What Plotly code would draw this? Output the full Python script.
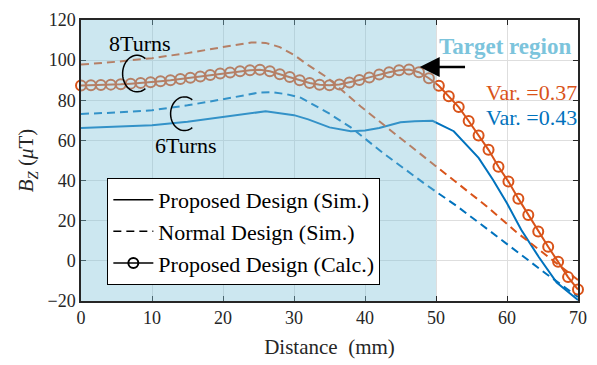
import numpy as np
import plotly.graph_objects as go

BLUE = "#0072BD"
ORANGE = "#D95319"
FONT = "Liberation Serif, Times New Roman, serif"

# Proposed design, 6 turns (simulation)
prop6_x = [0, 5, 10, 15, 20, 25, 26, 30, 32, 35, 38, 40, 42, 45, 47, 49.5,
           52.5, 56, 58, 60, 62, 64.5, 67, 70]
prop6_y = [66.2, 66.8, 67.6, 69.3, 71.5, 74.0, 74.5, 72.6, 70.5, 66.5, 64.6, 65.0,
           66.2, 69.0, 69.6, 69.8, 64.6, 51.3, 40.5, 28.7, 15.5, 1.8, -10.8, -19.5]

# Normal design, 6 turns (simulation)
norm6_x = [0, 5, 10, 15, 20, 25, 27, 29, 31, 35, 38, 42.6, 48.4, 53, 57.2, 61.3, 65.5, 70]
norm6_y = [73.2, 73.9, 75.0, 77.5, 80.5, 83.8, 84.0, 83.0, 81.2, 73.3, 66.5, 53.6,
           38.4, 27.1, 15.9, 4.8, -6.4, -18.0]

# Normal design, 8 turns (simulation)
norm8_x = [0, 5, 10, 15, 20, 24, 26, 28, 30, 32, 34.7, 39.4, 44.5, 48.8, 53, 57.2,
           61.3, 65.5, 70]
norm8_y = [97.8, 99.2, 101.0, 103.5, 106.5, 108.8, 108.6, 106.5, 102.6, 97.5, 91.3,
           76.9, 62.5, 50.5, 38.4, 27.0, 14.4, 3.0, -9.5]

# Proposed design, 8 turns (calculation)
calc8_x = [0, 1.4, 2.8, 4.2, 5.6, 7, 8.4, 9.8, 11.2, 12.6, 14, 15.4, 16.8, 18.2, 19.6,
           21, 22.4, 23.8, 25.2, 26.6, 28, 29.4, 30.8, 32.2, 33.6, 35, 36.4, 37.8,
           39.2, 40.6, 42, 43.4, 44.8, 46.2, 47.6, 49, 50.4, 51.8, 53.2, 54.6, 56,
           57.4, 58.8, 60.2, 61.6, 63, 64.4, 65.8, 67.2, 68.6, 70]
calc8_y = [87.4, 87.5, 87.6, 87.8, 88.0, 88.3, 88.6, 89.0, 89.5, 90.0, 90.6, 91.2,
           91.9, 92.6, 93.3, 93.9, 94.5, 95.0, 95.2, 94.5, 93.0, 91.6, 90.0, 88.6,
           87.7, 87.5, 87.9, 88.9, 90.1, 91.4, 92.8, 94.0, 95.0, 95.3, 94.0, 91.0,
           87.2, 82.0, 76.6, 69.7, 62.5, 55.3, 46.9, 39.5, 31.0, 22.8, 14.6, 7.0,
           -0.5, -8.1, -14.3]

x_ticks = [0, 10, 20, 30, 40, 50, 60, 70]
y_ticks = [-20, 0, 20, 40, 60, 80, 100, 120]
target_region = [0, 50]

legend_names = ["Proposed Design (Sim.)", "Normal Design (Sim.)", "Proposed Design (Calc.)"]

fig = go.Figure()

dash = "8px,5px"
fig.add_trace(go.Scatter(x=prop6_x, y=prop6_y, mode="lines",
                         line=dict(color=BLUE, width=2), showlegend=False))
fig.add_trace(go.Scatter(x=norm6_x, y=norm6_y, mode="lines",
                         line=dict(color=BLUE, width=2, dash=dash), showlegend=False))
fig.add_trace(go.Scatter(x=norm8_x, y=norm8_y, mode="lines",
                         line=dict(color=ORANGE, width=2, dash=dash), showlegend=False))
fig.add_trace(go.Scatter(x=calc8_x, y=calc8_y, mode="lines+markers",
                         line=dict(color=ORANGE, width=2),
                         marker=dict(symbol="circle-open", size=10, color=ORANGE,
                                     line=dict(width=2, color=ORANGE)),
                         cliponaxis=False, showlegend=False))

# black legend keys
fig.add_trace(go.Scatter(x=[None], y=[None], mode="lines", name=legend_names[0],
                         line=dict(color="black", width=1.5)))
fig.add_trace(go.Scatter(x=[None], y=[None], mode="lines", name=legend_names[1],
                         line=dict(color="black", width=1.5, dash=dash)))
fig.add_trace(go.Scatter(x=[None], y=[None], mode="lines+markers", name=legend_names[2],
                         line=dict(color="black", width=1.5),
                         marker=dict(symbol="circle-open", size=10, color="black",
                                     line=dict(width=2, color="black"))))

shapes = []
# translucent wash over the target region
shapes.append(dict(type="rect", xref="x", yref="y", layer="above",
                   x0=target_region[0], x1=target_region[1], y0=-20, y1=120,
                   fillcolor="rgb(127,195,217)", opacity=0.4, line=dict(width=0)))


def arc_path(cx, cy, rx, ry, t0=55, t1=305, n=40):
    t = np.radians(np.linspace(t0, t1, n))
    xs = cx + rx * np.cos(t)
    ys = cy + ry * np.sin(t)
    return "M " + " L ".join(f"{a:.3f},{b:.3f}" for a, b in zip(xs, ys))


for cx, cy, rx, ry in [(7.90, 93.3, 2.04, 9.1), (14.56, 73.3, 1.94, 8.4)]:
    shapes.append(dict(type="path", xref="x", yref="y", layer="above",
                       path=arc_path(cx, cy, rx, ry),
                       line=dict(color="black", width=1.5)))

annotations = [
    dict(x=8.3, y=108.2, text="8Turns", showarrow=False,
         font=dict(family=FONT, size=22, color="black")),
    dict(x=14.8, y=57.4, text="6Turns", showarrow=False,
         font=dict(family=FONT, size=22, color="black")),
    dict(x=59.75, y=106.7, text="<b>Target region</b>", showarrow=False,
         font=dict(family=FONT, size=23, color="#7CC4DC")),
    dict(x=69.9, y=84.1, text="Var. =0.37", showarrow=False, xanchor="right",
         xshift=2, font=dict(family=FONT, size=22, color=ORANGE)),
    dict(x=69.9, y=71.6, text="Var. =0.43", showarrow=False, xanchor="right",
         xshift=2, font=dict(family=FONT, size=22, color=BLUE)),
    dict(x=47.7, y=96.6, ax=54.3, ay=96.6, axref="x", ayref="y", text="",
         showarrow=True, arrowhead=2, arrowsize=1.6, arrowwidth=2.5,
         arrowcolor="black"),
]

axis_common = dict(
    showline=True, linecolor="#262626", linewidth=1.5, mirror="allticks",
    ticks="inside", ticklen=5, tickwidth=1, tickcolor="#262626",
    showgrid=True, gridcolor="#dedede", gridwidth=1, zeroline=False,
    tickfont=dict(family=FONT, size=18, color="#262626"),
)

fig.update_layout(
    width=597, height=365,
    margin=dict(l=81, r=11, t=10, b=63),
    paper_bgcolor="white", plot_bgcolor="white",
    font=dict(family=FONT, color="#262626"),
    xaxis=dict(range=[0, 70], tickvals=x_ticks,
               title=dict(text="Distance\u00a0 (mm)", standoff=12,
                          font=dict(family=FONT, size=21, color="#262626")),
               **axis_common),
    yaxis=dict(range=[-20, 120], tickvals=y_ticks,
               title=dict(text="<i>B</i><sub><i>Z</i></sub> (<i>μ</i>T)", standoff=8,
                          font=dict(family=FONT, size=21, color="#262626")),
               **axis_common),
    legend=dict(x=0.053, y=0.438, xanchor="left", yanchor="top",
                bgcolor="white", bordercolor="black", borderwidth=1,
                font=dict(family=FONT, size=22, color="black"),
                itemwidth=40, tracegroupgap=0),
    shapes=shapes,
    annotations=annotations,
)

fig.write_html("out.html")
